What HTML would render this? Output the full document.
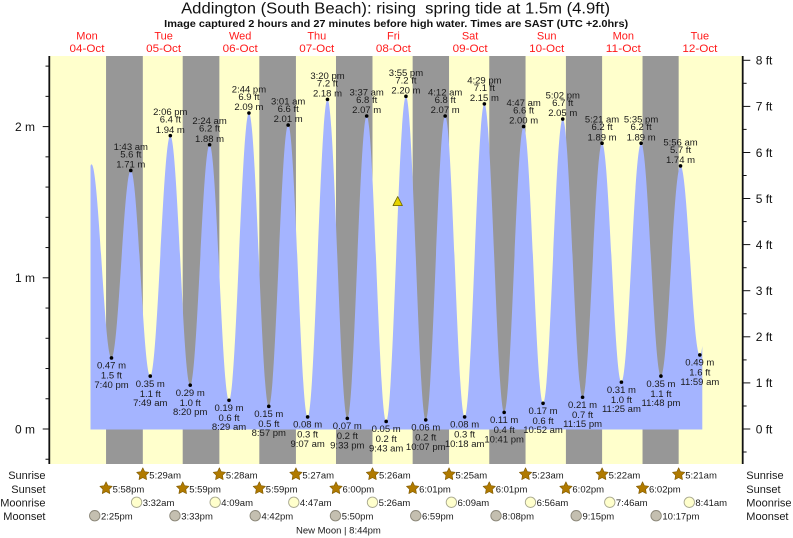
<!DOCTYPE html>
<html><head><meta charset="utf-8"><style>
html,body{margin:0;padding:0;background:#fff;}
svg{display:block;font-family:"Liberation Sans",Arial,sans-serif;}
</style></head><body>
<svg width="793" height="538" viewBox="0 0 793 538" xmlns="http://www.w3.org/2000/svg">
<defs>
<path id="star" d="M0,-6.5 L1.9,-2.6 L6.2,-2 L3.1,1 L3.8,5.3 L0,3.3 L-3.8,5.3 L-3.1,1 L-6.2,-2 L-1.9,-2.6 Z" fill="#b07a00" stroke="#7d5800" stroke-width="0.6" stroke-linejoin="round"/>
</defs>
<rect width="793" height="538" fill="#fff"/>
<rect x="49.5" y="56" width="693.2" height="408" fill="#ffffcc"/>
<g fill="#979797">
<rect x="106.05" y="56" width="36.76" height="408"/>
<rect x="182.71" y="56" width="36.66" height="408"/>
<rect x="259.32" y="56" width="36.61" height="408"/>
<rect x="335.99" y="56" width="36.49" height="408"/>
<rect x="412.65" y="56" width="36.39" height="408"/>
<rect x="489.26" y="56" width="36.28" height="408"/>
<rect x="565.92" y="56" width="36.18" height="408"/>
<rect x="642.53" y="56" width="36.13" height="408"/>
</g>
<path fill="#a4b4ff" d="M90.5,429.5 L90.5,166 C90.9,164.6 91.2,164.4 91.53,164.4
C98.79,164.4 104.22,357.94 111.48,357.94
C118.51,357.94 123.76,170.45 130.79,170.45
C137.88,170.45 143.17,376.08 150.26,376.08
C157.56,376.08 163.02,135.67 170.32,135.67
C177.56,135.67 182.98,385.15 190.22,385.15
C197.27,385.15 202.53,144.74 209.58,144.74
C216.65,144.74 221.93,400.27 229.0,400.27
C236.26,400.27 241.69,112.99 248.95,112.99
C256.17,112.99 261.57,406.32 268.79,406.32
C275.84,406.32 281.11,125.09 288.16,125.09
C295.25,125.09 300.54,416.9 307.63,416.9
C314.86,416.9 320.25,99.38 327.48,99.38
C334.70,99.38 340.10,418.42 347.32,418.42
C354.37,418.42 359.64,116.02 366.69,116.02
C373.78,116.02 379.07,421.44 386.16,421.44
C393.36,421.44 398.75,96.36 405.95,96.36
C413.15,96.36 418.54,419.93 425.74,419.93
C432.81,419.93 438.09,116.02 445.16,116.02
C452.25,116.02 457.54,416.9 464.63,416.9
C471.82,416.9 477.18,103.92 484.37,103.92
C491.57,103.92 496.96,412.37 504.16,412.37
C511.25,412.37 516.54,126.6 523.63,126.6
C530.70,126.6 535.98,403.3 543.05,403.3
C550.21,403.3 555.57,119.04 562.73,119.04
C569.96,119.04 575.35,397.25 582.58,397.25
C589.67,397.25 594.96,143.23 602.05,143.23
C609.10,143.23 614.36,382.13 621.41,382.13
C628.58,382.13 633.93,143.23 641.1,143.23
C648.32,143.23 653.72,376.08 660.94,376.08
C668.07,376.08 673.39,165.91 680.52,165.91
C687.55,165.91 692.80,354.91 699.83,354.91
C700.9,354.91 701.6,352 702.3,346
L702.3,429.5 Z"/>

<!-- dots -->
<g fill="#000">
<circle cx="111.48" cy="357.94" r="1.8"/><circle cx="130.79" cy="170.45" r="1.8"/>
<circle cx="150.26" cy="376.08" r="1.8"/><circle cx="170.32" cy="135.67" r="1.8"/>
<circle cx="190.22" cy="385.15" r="1.8"/><circle cx="209.58" cy="144.74" r="1.8"/>
<circle cx="229.0" cy="400.27" r="1.8"/><circle cx="248.95" cy="112.99" r="1.8"/>
<circle cx="268.79" cy="406.32" r="1.8"/><circle cx="288.16" cy="125.09" r="1.8"/>
<circle cx="307.63" cy="416.9" r="1.8"/><circle cx="327.48" cy="99.38" r="1.8"/>
<circle cx="347.32" cy="418.42" r="1.8"/><circle cx="366.69" cy="116.02" r="1.8"/>
<circle cx="386.16" cy="421.44" r="1.8"/><circle cx="405.95" cy="96.36" r="1.8"/>
<circle cx="425.74" cy="419.93" r="1.8"/><circle cx="445.16" cy="116.02" r="1.8"/>
<circle cx="464.63" cy="416.9" r="1.8"/><circle cx="484.37" cy="103.92" r="1.8"/>
<circle cx="504.16" cy="412.37" r="1.8"/><circle cx="523.63" cy="126.6" r="1.8"/>
<circle cx="543.05" cy="403.3" r="1.8"/><circle cx="562.73" cy="119.04" r="1.8"/>
<circle cx="582.58" cy="397.25" r="1.8"/><circle cx="602.05" cy="143.23" r="1.8"/>
<circle cx="621.41" cy="382.13" r="1.8"/><circle cx="641.1" cy="143.23" r="1.8"/>
<circle cx="660.94" cy="376.08" r="1.8"/><circle cx="680.52" cy="165.91" r="1.8"/>
<circle cx="699.83" cy="354.91" r="1.8"/>
</g>

<!-- tide labels -->
<g font-size="9.5" fill="#1a1a1a" text-anchor="middle">
<text x="130.79" y="149.85">1:43 am</text><text x="130.79" y="157.35">5.6 ft</text><text x="130.79" y="167.55">1.71 m</text>
<text x="170.32" y="115.07">2:06 pm</text><text x="170.32" y="122.57">6.4 ft</text><text x="170.32" y="132.77">1.94 m</text>
<text x="209.58" y="124.14">2:24 am</text><text x="209.58" y="131.64">6.2 ft</text><text x="209.58" y="141.84">1.88 m</text>
<text x="248.95" y="92.39">2:44 pm</text><text x="248.95" y="99.89">6.9 ft</text><text x="248.95" y="110.09">2.09 m</text>
<text x="288.16" y="104.49">3:01 am</text><text x="288.16" y="111.99">6.6 ft</text><text x="288.16" y="122.19">2.01 m</text>
<text x="327.48" y="78.78">3:20 pm</text><text x="327.48" y="86.28">7.2 ft</text><text x="327.48" y="96.48">2.18 m</text>
<text x="366.69" y="95.42">3:37 am</text><text x="366.69" y="102.92">6.8 ft</text><text x="366.69" y="113.12">2.07 m</text>
<text x="405.95" y="75.76">3:55 pm</text><text x="405.95" y="83.26">7.2 ft</text><text x="405.95" y="93.46">2.20 m</text>
<text x="445.16" y="95.42">4:12 am</text><text x="445.16" y="102.92">6.8 ft</text><text x="445.16" y="113.12">2.07 m</text>
<text x="484.37" y="83.32">4:29 pm</text><text x="484.37" y="90.82">7.1 ft</text><text x="484.37" y="101.02">2.15 m</text>
<text x="523.63" y="106.0">4:47 am</text><text x="523.63" y="113.5">6.6 ft</text><text x="523.63" y="123.7">2.00 m</text>
<text x="562.73" y="98.44">5:02 pm</text><text x="562.73" y="105.94">6.7 ft</text><text x="562.73" y="116.14">2.05 m</text>
<text x="602.05" y="122.63">5:21 am</text><text x="602.05" y="130.13">6.2 ft</text><text x="602.05" y="140.33">1.89 m</text>
<text x="641.1" y="122.63">5:35 pm</text><text x="641.1" y="130.13">6.2 ft</text><text x="641.1" y="140.33">1.89 m</text>
<text x="680.52" y="145.31">5:56 am</text><text x="680.52" y="152.81">5.7 ft</text><text x="680.52" y="163.01">1.74 m</text>

<text x="111.48" y="368.74">0.47 m</text><text x="111.48" y="378.64">1.5 ft</text><text x="111.48" y="387.84">7:40 pm</text>
<text x="150.26" y="386.88">0.35 m</text><text x="150.26" y="396.78">1.1 ft</text><text x="150.26" y="405.98">7:49 am</text>
<text x="190.22" y="395.95">0.29 m</text><text x="190.22" y="405.85">1.0 ft</text><text x="190.22" y="415.05">8:20 pm</text>
<text x="229.0" y="411.07">0.19 m</text><text x="229.0" y="420.97">0.6 ft</text><text x="229.0" y="430.17">8:29 am</text>
<text x="268.79" y="417.12">0.15 m</text><text x="268.79" y="427.02">0.5 ft</text><text x="268.79" y="436.22">8:57 pm</text>
<text x="307.63" y="427.7">0.08 m</text><text x="307.63" y="437.6">0.3 ft</text><text x="307.63" y="446.8">9:07 am</text>
<text x="347.32" y="429.22">0.07 m</text><text x="347.32" y="439.12">0.2 ft</text><text x="347.32" y="448.32">9:33 pm</text>
<text x="386.16" y="432.24">0.05 m</text><text x="386.16" y="442.14">0.2 ft</text><text x="386.16" y="451.34">9:43 am</text>
<text x="425.74" y="430.73">0.06 m</text><text x="425.74" y="440.63">0.2 ft</text><text x="425.74" y="449.83">10:07 pm</text>
<text x="464.63" y="427.7">0.08 m</text><text x="464.63" y="437.6">0.3 ft</text><text x="464.63" y="446.8">10:18 am</text>
<text x="504.16" y="423.17">0.11 m</text><text x="504.16" y="433.07">0.4 ft</text><text x="504.16" y="442.27">10:41 pm</text>
<text x="543.05" y="414.1">0.17 m</text><text x="543.05" y="424.0">0.6 ft</text><text x="543.05" y="433.2">10:52 am</text>
<text x="582.58" y="408.05">0.21 m</text><text x="582.58" y="417.95">0.7 ft</text><text x="582.58" y="427.15">11:15 pm</text>
<text x="621.41" y="392.93">0.31 m</text><text x="621.41" y="402.83">1.0 ft</text><text x="621.41" y="412.03">11:25 am</text>
<text x="660.94" y="386.88">0.35 m</text><text x="660.94" y="396.78">1.1 ft</text><text x="660.94" y="405.98">11:48 pm</text>
<text x="699.83" y="365.71">0.49 m</text><text x="699.83" y="375.61">1.6 ft</text><text x="699.83" y="384.81">11:59 am</text>
</g>

<!-- current tide marker -->
<polygon points="397.7,196.5 393,205.6 402.4,205.6" fill="#e6d400" stroke="#6b6200" stroke-width="0.8" stroke-linejoin="round"/>

<!-- axes -->
<g stroke="#111" fill="none">
<line x1="49.3" y1="56" x2="49.3" y2="464" stroke-width="1.8"/>
<line x1="742.7" y1="56" x2="742.7" y2="464" stroke-width="1.8"/>
<g stroke-width="1">
<line x1="42.7" y1="429" x2="49" y2="429"/><line x1="42.7" y1="277.8" x2="49" y2="277.8"/><line x1="42.7" y1="126.6" x2="49" y2="126.6"/>
<line x1="45.5" y1="459.24" x2="49" y2="459.24"/><line x1="45.5" y1="398.76" x2="49" y2="398.76"/>
<line x1="45.5" y1="368.52" x2="49" y2="368.52"/><line x1="45.5" y1="338.28" x2="49" y2="338.28"/>
<line x1="45.5" y1="308.04" x2="49" y2="308.04"/><line x1="45.5" y1="247.56" x2="49" y2="247.56"/>
<line x1="45.5" y1="217.32" x2="49" y2="217.32"/><line x1="45.5" y1="187.08" x2="49" y2="187.08"/>
<line x1="45.5" y1="156.84" x2="49" y2="156.84"/><line x1="45.5" y1="96.36" x2="49" y2="96.36"/>
<line x1="45.5" y1="66.12" x2="49" y2="66.12"/>
<line x1="743" y1="429" x2="750.3" y2="429"/><line x1="743" y1="382.9" x2="750.3" y2="382.9"/>
<line x1="743" y1="336.8" x2="750.3" y2="336.8"/><line x1="743" y1="290.7" x2="750.3" y2="290.7"/>
<line x1="743" y1="244.6" x2="750.3" y2="244.6"/><line x1="743" y1="198.5" x2="750.3" y2="198.5"/>
<line x1="743" y1="152.5" x2="750.3" y2="152.5"/><line x1="743" y1="106.4" x2="750.3" y2="106.4"/>
<line x1="743" y1="60.3" x2="750.3" y2="60.3"/>
<line x1="743" y1="452" x2="746.6" y2="452"/><line x1="743" y1="406" x2="746.6" y2="406"/>
<line x1="743" y1="359.9" x2="746.6" y2="359.9"/><line x1="743" y1="313.8" x2="746.6" y2="313.8"/>
<line x1="743" y1="267.7" x2="746.6" y2="267.7"/><line x1="743" y1="221.6" x2="746.6" y2="221.6"/>
<line x1="743" y1="175.5" x2="746.6" y2="175.5"/><line x1="743" y1="129.4" x2="746.6" y2="129.4"/>
<line x1="743" y1="83.3" x2="746.6" y2="83.3"/>
</g>
</g>
<g font-size="12" fill="#111">
<g text-anchor="end">
<text x="35" y="433.3">0 m</text><text x="35" y="282.1">1 m</text><text x="35" y="130.9">2 m</text>
</g>
<text x="755.7" y="433.3">0 ft</text><text x="755.7" y="387.2">1 ft</text><text x="755.7" y="341.1">2 ft</text>
<text x="755.7" y="295">3 ft</text><text x="755.7" y="248.9">4 ft</text><text x="755.7" y="202.8">5 ft</text>
<text x="755.7" y="156.8">6 ft</text><text x="755.7" y="110.7">7 ft</text><text x="755.7" y="64.6">8 ft</text>
</g>

<!-- titles -->
<text x="395.6" y="13.6" font-size="15.5" fill="#111" text-anchor="middle" textLength="429" lengthAdjust="spacingAndGlyphs" xml:space="preserve">Addington (South Beach): rising  spring tide at 1.5m (4.9ft)</text>
<text x="396.2" y="26.8" font-size="10" font-weight="bold" fill="#111" text-anchor="middle" textLength="464" lengthAdjust="spacingAndGlyphs">Image captured 2 hours and 27 minutes before high water. Times are SAST (UTC +2.0hrs)</text>

<g font-size="11" fill="#ff1a1a" text-anchor="middle">
<text x="87" y="39.6">Mon</text><text x="87" y="52.2" textLength="35" lengthAdjust="spacingAndGlyphs">04-Oct</text>
<text x="163.6" y="39.6">Tue</text><text x="163.6" y="52.2" textLength="35" lengthAdjust="spacingAndGlyphs">05-Oct</text>
<text x="240.2" y="39.6">Wed</text><text x="240.2" y="52.2" textLength="35" lengthAdjust="spacingAndGlyphs">06-Oct</text>
<text x="316.8" y="39.6">Thu</text><text x="316.8" y="52.2" textLength="35" lengthAdjust="spacingAndGlyphs">07-Oct</text>
<text x="393.4" y="39.6">Fri</text><text x="393.4" y="52.2" textLength="35" lengthAdjust="spacingAndGlyphs">08-Oct</text>
<text x="470.1" y="39.6">Sat</text><text x="470.1" y="52.2" textLength="35" lengthAdjust="spacingAndGlyphs">09-Oct</text>
<text x="546.7" y="39.6">Sun</text><text x="546.7" y="52.2" textLength="35" lengthAdjust="spacingAndGlyphs">10-Oct</text>
<text x="623.3" y="39.6">Mon</text><text x="623.3" y="52.2" textLength="35" lengthAdjust="spacingAndGlyphs">11-Oct</text>
<text x="699.9" y="39.6">Tue</text><text x="699.9" y="52.2" textLength="35" lengthAdjust="spacingAndGlyphs">12-Oct</text>
</g>

<!-- bottom rows labels -->
<g font-size="11" fill="#1a1a1a">
<g text-anchor="end">
<text x="45.5" y="479">Sunrise</text><text x="45.5" y="492.8">Sunset</text>
<text x="45.5" y="506.4">Moonrise</text><text x="45.5" y="519.8">Moonset</text>
</g>
<text x="746.3" y="479">Sunrise</text><text x="746.3" y="492.8">Sunset</text>
<text x="746.3" y="506.4">Moonrise</text><text x="746.3" y="519.8">Moonset</text>
</g>

<!-- sunrise stars -->
<use href="#star" x="142.81" y="474.3"/><use href="#star" x="219.37" y="474.3"/>
<use href="#star" x="295.93" y="474.3"/><use href="#star" x="372.48" y="474.3"/>
<use href="#star" x="449.04" y="474.3"/><use href="#star" x="525.54" y="474.3"/>
<use href="#star" x="602.10" y="474.3"/><use href="#star" x="678.66" y="474.3"/>
<!-- sunset stars -->
<use href="#star" x="106.05" y="488.3"/><use href="#star" x="182.71" y="488.3"/>
<use href="#star" x="259.32" y="488.3"/><use href="#star" x="335.99" y="488.3"/>
<use href="#star" x="412.65" y="488.3"/><use href="#star" x="489.26" y="488.3"/>
<use href="#star" x="565.92" y="488.3"/><use href="#star" x="642.53" y="488.3"/>
<!-- moonrise -->
<g fill="#ffffcc" stroke="#a8a890" stroke-width="0.9">
<circle cx="136.59" cy="502.3" r="5.2"/><circle cx="215.17" cy="502.3" r="5.2"/>
<circle cx="293.8" cy="502.3" r="5.2"/><circle cx="372.48" cy="502.3" r="5.2"/>
<circle cx="451.38" cy="502.3" r="5.2"/><circle cx="530.49" cy="502.3" r="5.2"/>
<circle cx="609.76" cy="502.3" r="5.2"/><circle cx="689.3" cy="502.3" r="5.2"/>
</g>
<!-- moonset -->
<g fill="#c4bfb0" stroke="#8a8678" stroke-width="0.9">
<circle cx="94.72" cy="515.7" r="5.2"/><circle cx="174.95" cy="515.7" r="5.2"/>
<circle cx="255.23" cy="515.7" r="5.2"/><circle cx="335.45" cy="515.7" r="5.2"/>
<circle cx="415.74" cy="515.7" r="5.2"/><circle cx="496.02" cy="515.7" r="5.2"/>
<circle cx="576.19" cy="515.7" r="5.2"/><circle cx="656.1" cy="515.7" r="5.2"/>
</g>

<g font-size="9.5" fill="#1a1a1a">
<text x="149.3" y="478.6">5:29am</text><text x="225.9" y="478.6">5:28am</text>
<text x="302.4" y="478.6">5:27am</text><text x="379" y="478.6">5:26am</text>
<text x="455.5" y="478.6">5:25am</text><text x="532" y="478.6">5:23am</text>
<text x="608.6" y="478.6">5:22am</text><text x="685.2" y="478.6">5:21am</text>

<text x="112.6" y="492.6">5:58pm</text><text x="189.2" y="492.6">5:59pm</text>
<text x="265.8" y="492.6">5:59pm</text><text x="342.5" y="492.6">6:00pm</text>
<text x="419.1" y="492.6">6:01pm</text><text x="495.7" y="492.6">6:01pm</text>
<text x="572.4" y="492.6">6:02pm</text><text x="649" y="492.6">6:02pm</text>

<text x="142.7" y="506">3:32am</text><text x="221.3" y="506">4:09am</text>
<text x="299.9" y="506">4:47am</text><text x="378.6" y="506">5:26am</text>
<text x="457.5" y="506">6:09am</text><text x="536.6" y="506">6:56am</text>
<text x="615.9" y="506">7:46am</text><text x="695.4" y="506">8:41am</text>

<text x="101" y="519.4">2:25pm</text><text x="181.2" y="519.4">3:33pm</text>
<text x="261.5" y="519.4">4:42pm</text><text x="341.7" y="519.4">5:50pm</text>
<text x="422" y="519.4">6:59pm</text><text x="502.3" y="519.4">8:08pm</text>
<text x="582.5" y="519.4">9:15pm</text><text x="662.4" y="519.4">10:17pm</text>

<text x="296" y="533.4">New Moon | 8:44pm</text>
</g>
</svg>
</body></html>
